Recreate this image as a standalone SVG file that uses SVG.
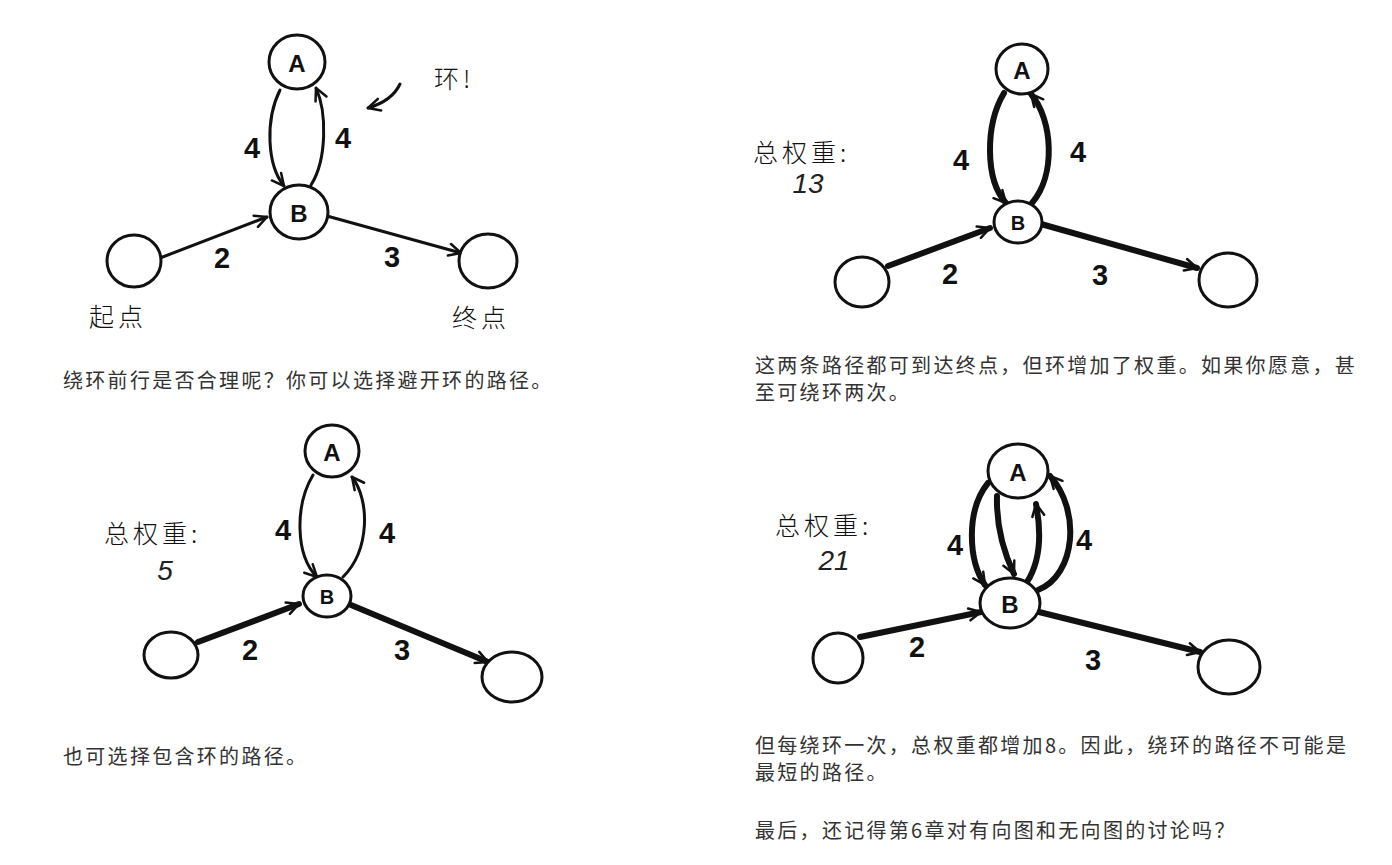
<svg xmlns="http://www.w3.org/2000/svg" width="1392" height="865" viewBox="0 0 1392 865">
<style>
.bg{fill:#fff}
.node{fill:#fff;stroke:#111;stroke-width:3}
.e{fill:none;stroke:#111;stroke-width:3;stroke-linecap:round;marker-end:url(#ah)}
.t{stroke-width:6}
.lbl{font-family:"Liberation Sans",sans-serif;font-weight:bold;font-size:29px;fill:#111;text-anchor:middle;dominant-baseline:central}
.nl{font-family:"Liberation Sans",sans-serif;font-weight:bold;font-size:24px;fill:#111;text-anchor:middle;dominant-baseline:central}
.hw{font-family:"Noto Sans CJK SC",sans-serif;font-weight:300;font-size:25px;fill:#111;dominant-baseline:central;letter-spacing:4px}
.num{font-family:"Liberation Sans",sans-serif;font-style:italic;font-size:28px;fill:#222;text-anchor:middle;dominant-baseline:central}
.para{font-family:"Noto Sans CJK SC",sans-serif;font-size:20px;fill:#333;letter-spacing:2.3px}
</style>
<defs>
<marker id="ah" viewBox="0 0 16 16" refX="14" refY="8" markerWidth="16" markerHeight="16" markerUnits="userSpaceOnUse" orient="auto">
<path d="M2,2 L14,8 L2,14" fill="none" stroke="#111" stroke-width="2.5" stroke-linecap="round" stroke-linejoin="round"/>
</marker>
</defs>
<rect class="bg" width="1392" height="865"/>

<g id="connectors">
<!-- panel 1 -->
<path class="e" d="M160,258 L267,217"/>
<path class="e" d="M327,216 L461,253"/>
<path class="e" d="M280,90 C265,120 267,165 284,186"/>
<path class="e" d="M311,185 C327,160 327,112 316,88"/>
<path class="e" d="M400,84 Q392,101 368,108"/>
<!-- panel 2 -->
<path class="e t" d="M888,266 L990,228"/>
<path class="e t" d="M1041,224 L1197,268"/>
<path class="e t" d="M1004,93 C985,125 985,180 1006,203"/>
<path class="e t" d="M1032,203 C1056,175 1053,120 1031,94"/>
<!-- panel 3 -->
<path class="e t" d="M198,642 L299,604"/>
<path class="e t" d="M351,605 L488,662"/>
<path class="e" d="M313,475 C295,505 295,555 317,577"/>
<path class="e" d="M343,577 C370,550 370,500 352,477"/>
<!-- panel 4 -->
<path class="e t" d="M860,637 L981,612"/>
<path class="e t" d="M1039,612 L1200,652"/>
<path class="e t" d="M988,483 C966,510 968,560 985,585"/>
<path class="e t" d="M997,496 C996,530 1005,555 1014,574"/>
<path class="e t" d="M1027,582 C1041,560 1041,530 1036,504"/>
<path class="e t" d="M1038,590 C1076,575 1081,510 1050,476"/>
</g>

<g id="edge-labels">
<text class="lbl" x="252" y="148">4</text>
<text class="lbl" x="343" y="138">4</text>
<text class="lbl" x="222" y="258">2</text>
<text class="lbl" x="392" y="257">3</text>
<text class="lbl" x="961" y="160">4</text>
<text class="lbl" x="1078" y="152">4</text>
<text class="lbl" x="950" y="274">2</text>
<text class="lbl" x="1100" y="275">3</text>
<text class="lbl" x="283" y="530">4</text>
<text class="lbl" x="387" y="533">4</text>
<text class="lbl" x="250" y="650">2</text>
<text class="lbl" x="402" y="650">3</text>
<text class="lbl" x="955" y="545">4</text>
<text class="lbl" x="1084" y="540">4</text>
<text class="lbl" x="917" y="647">2</text>
<text class="lbl" x="1093" y="660">3</text>
</g>

<!-- panel 1 nodes -->
<g id="p1-A"><ellipse class="node" cx="297" cy="62" rx="28" ry="27"/><text class="nl" x="297" y="63">A</text></g>
<g id="p1-B"><ellipse class="node" cx="299" cy="212" rx="29" ry="27"/><text class="nl" x="299" y="213">B</text></g>
<g id="p1-start"><ellipse class="node" cx="134" cy="261" rx="27" ry="26"/><text class="hw" x="89" y="315">起点</text></g>
<g id="p1-end"><ellipse class="node" cx="488" cy="261" rx="29" ry="27"/><text class="hw" x="452" y="316">终点</text></g>
<g id="p1-note"><text class="hw" x="434" y="77">环!</text></g>

<!-- panel 2 nodes -->
<g id="p2-A"><ellipse class="node" cx="1022" cy="69" rx="26" ry="25"/><text class="nl" x="1022" y="70">A</text></g>
<g id="p2-B"><ellipse class="node" cx="1018" cy="222" rx="24" ry="21"/><text class="nl" x="1018" y="223" style="font-size:20px">B</text></g>
<g id="p2-start"><ellipse class="node" cx="862" cy="282" rx="27" ry="25"/></g>
<g id="p2-end"><ellipse class="node" cx="1228" cy="280" rx="29" ry="27"/></g>
<g id="p2-total"><text class="hw" x="753" y="151">总权重:</text><text class="num" x="808" y="183">13</text></g>

<!-- panel 3 nodes -->
<g id="p3-A"><ellipse class="node" cx="332" cy="451" rx="27" ry="26"/><text class="nl" x="332" y="452">A</text></g>
<g id="p3-B"><ellipse class="node" cx="327" cy="596" rx="24" ry="21"/><text class="nl" x="327" y="597" style="font-size:20px">B</text></g>
<g id="p3-start"><ellipse class="node" cx="171" cy="655" rx="27" ry="23"/></g>
<g id="p3-end"><ellipse class="node" cx="512" cy="677" rx="30" ry="25"/></g>
<g id="p3-total"><text class="hw" x="104" y="532">总权重:</text><text class="num" x="165" y="570">5</text></g>

<!-- panel 4 nodes -->
<g id="p4-A"><ellipse class="node" cx="1018" cy="471" rx="30" ry="27"/><text class="nl" x="1018" y="472">A</text></g>
<g id="p4-B"><ellipse class="node" cx="1010" cy="603" rx="30" ry="25"/><text class="nl" x="1010" y="604">B</text></g>
<g id="p4-start"><ellipse class="node" cx="838" cy="658" rx="25" ry="25"/></g>
<g id="p4-end"><ellipse class="node" cx="1229" cy="667" rx="31" ry="27"/></g>
<g id="p4-total"><text class="hw" x="775" y="524">总权重:</text><text class="num" x="834" y="560">21</text></g>

<g id="paragraphs">
<text class="para" x="63" y="388">绕环前行是否合理呢？你可以选择避开环的路径。</text>
<text class="para" x="755" y="373">这两条路径都可到达终点，但环增加了权重。如果你愿意，甚</text>
<text class="para" x="755" y="400">至可绕环两次。</text>
<text class="para" x="63" y="764">也可选择包含环的路径。</text>
<text class="para" x="755" y="753">但每绕环一次，总权重都增加8。因此，绕环的路径不可能是</text>
<text class="para" x="755" y="780">最短的路径。</text>
<text class="para" x="755" y="838">最后，还记得第6章对有向图和无向图的讨论吗？</text>
</g>
</svg>
